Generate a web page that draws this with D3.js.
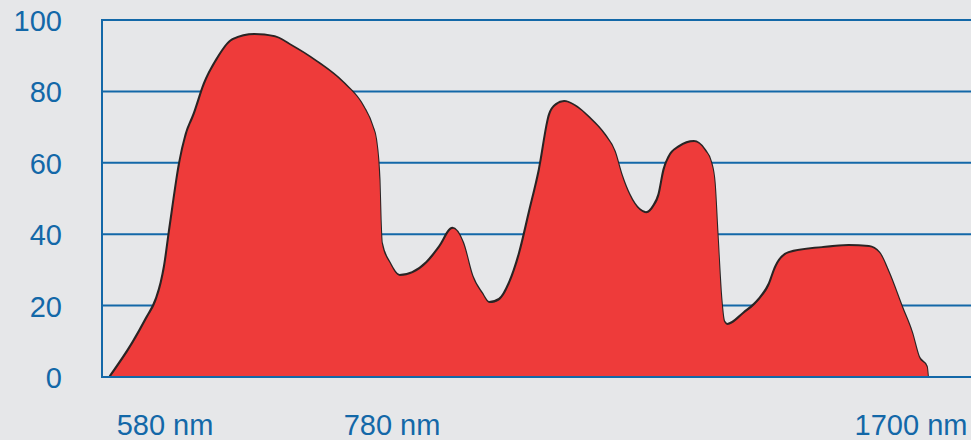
<!DOCTYPE html>
<html>
<head>
<meta charset="utf-8">
<script src="https://cdn.jsdelivr.net/npm/d3@7"></script>
<style>
    html, body { margin: 0; padding: 0; background: #e6e7e9; }
    .canvas svg { display: block; }
</style>
</head>
<body>
<div class="canvas"></div>
<script>
// Spectrum data: wavelength (nm) and relative intensity (%)
const wavelengths = [532, 552, 564, 573, 577, 580, 584, 587, 593, 599, 606, 615, 626, 640, 659, 677, 690, 714, 737, 755, 763, 766, 769, 770, 771, 778,
    794, 817, 842, 865, 888, 906, 923, 939, 953, 971, 989, 1007, 1024, 1042, 1060, 1072, 1086, 1104, 1130, 1157, 1175, 1187, 1201, 1219, 1231,
    1245, 1254, 1263, 1272, 1290, 1316, 1334, 1346, 1352, 1357, 1364, 1369, 1375, 1405, 1431, 1449, 1461, 1484, 1543, 1590, 1626, 1644, 1661,
    1684, 1702, 1714, 1728, 1730];
const intensity = [0, 9.5, 16.3, 22.0, 26.3, 31.0, 40.1, 46.8, 59.4, 67.8, 73.5, 82.0, 88.8, 94.4, 95.8, 95.2, 93.0, 88.2, 82.4, 75.6, 70.0, 66.4, 55.2, 44, 37.5, 31.9,
    28.3, 29.1, 31.9, 36.4, 41.5, 37.5, 28.0, 23.5, 20.7, 21.6, 26.3, 34.7, 45.9, 58.0, 73.4, 76.2, 77.0, 75.9, 72.5, 67.8, 63.0, 56.6, 51.0, 46.8, 45.9,
    47.9, 51.0, 58.0, 61.6, 64.4, 65.8, 63.6, 59.9, 54.3, 40.3, 21.6, 15.4, 14.6, 17.9, 21.6, 25.8, 30.8, 34.7, 36.1, 36.7, 36.4, 34.7, 29.1,
    19.6, 12.3, 5.6, 2.8, 0];
const xTicks = [580, 780, 1700];
const yTicks = [0, 20, 40, 60, 80, 100];

const app = {
    dims: { width: 971, height: 440 },
    blue: '#1368a8',
    red: '#ee3b3a',

    init: function() {
        const data = wavelengths.map((w, i) => ({ w: w, v: intensity[i] }));

        const svg = d3.select('.canvas')
            .append('svg')
            .attr('width', app.dims.width)
            .attr('height', app.dims.height);

        // The printed axis is not linear: piecewise scale through the three labels
        const x = d3.scaleLinear()
            .domain(xTicks)
            .range([165, 392, 911]);

        const y = d3.scaleLinear()
            .domain([0, 100])
            .range([377, 20]);

        // Gridlines
        svg.append('g')
            .selectAll('line')
            .data(yTicks)
            .enter()
            .append('line')
                .attr('x1', 102)
                .attr('x2', app.dims.width)
                .attr('y1', d => y(d))
                .attr('y2', d => y(d))
                .attr('stroke', app.blue)
                .attr('stroke-width', 2);

        // Left axis line
        svg.append('line')
            .attr('x1', 102).attr('x2', 102)
            .attr('y1', y(100) - 1).attr('y2', y(0) + 1)
            .attr('stroke', app.blue)
            .attr('stroke-width', 2);

        // Spectrum outline (dark edge) then fill
        const line = d3.line()
            .x(d => x(d.w))
            .y(d => y(d.v))
            .curve(d3.curveMonotoneX);

        const area = d3.area()
            .x(d => x(d.w))
            .y0(y(0))
            .y1(d => y(d.v))
            .curve(d3.curveMonotoneX);

        svg.append('path')
            .datum(data)
            .attr('d', line)
            .attr('fill', 'none')
            .attr('stroke', '#2a2424')
            .attr('stroke-width', 3)
            .attr('transform', 'translate(-0.5, -0.5)');

        svg.append('path')
            .datum(data)
            .attr('d', area)
            .attr('fill', app.red);

        // Baseline drawn over the fill
        svg.append('line')
            .attr('x1', 101)
            .attr('x2', app.dims.width)
            .attr('y1', y(0))
            .attr('y2', y(0))
            .attr('stroke', app.blue)
            .attr('stroke-width', 2);

        // Y labels
        svg.append('g')
            .selectAll('text')
            .data(yTicks)
            .enter()
            .append('text')
                .attr('x', 62)
                .attr('y', d => y(d) + 11)
                .attr('text-anchor', 'end')
                .attr('font-family', 'Liberation Sans, Arial, sans-serif')
                .attr('font-size', 29)
                .attr('fill', app.blue)
                .text(d => d);

        // X labels
        svg.append('g')
            .selectAll('text')
            .data(xTicks)
            .enter()
            .append('text')
                .attr('x', d => x(d))
                .attr('y', 435)
                .attr('text-anchor', 'middle')
                .attr('font-family', 'Liberation Sans, Arial, sans-serif')
                .attr('font-size', 29)
                .attr('fill', app.blue)
                .text(d => `${d} nm`);
    }
}

document.addEventListener('DOMContentLoaded', app.init);
</script>
</body>
</html>
